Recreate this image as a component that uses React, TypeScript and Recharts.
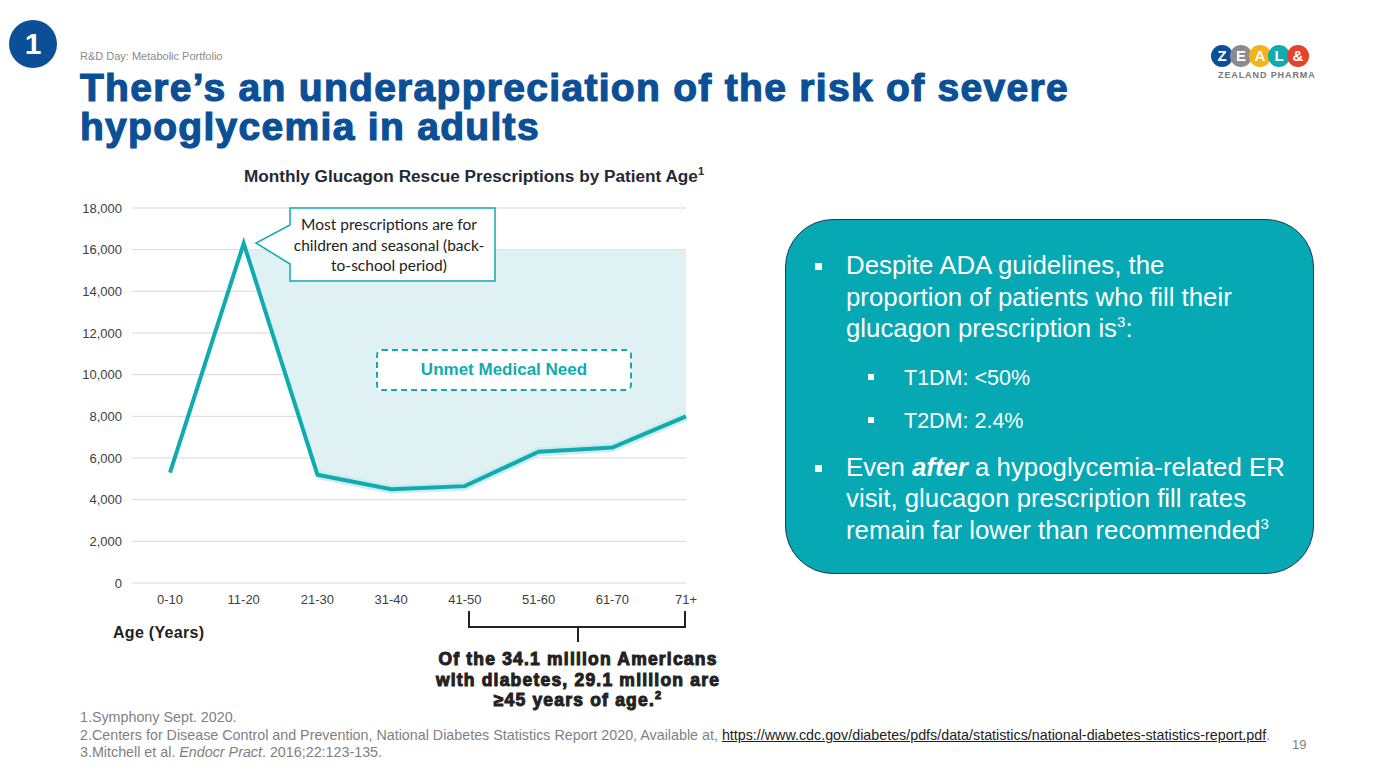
import React from "react";
import { Area, CartesianGrid, ComposedChart, Line, XAxis, YAxis } from "recharts";

const ageGroups = ["0-10", "11-20", "21-30", "31-40", "41-50", "51-60", "61-70", "71+"];
const prescriptions = [5300, 16300, 5200, 4500, 4650, 6300, 6500, 8000];
// upper edge of the "unmet medical need" band (starts at the 11-20 peak)
const unmetCeiling = [null, 16000, 16000, 16000, 16000, 16000, 16000, 16000];
const yTicks = [0, 2000, 4000, 6000, 8000, 10000, 12000, 14000, 16000, 18000];

const data = ageGroups.map((age, i) => ({
  age,
  value: prescriptions[i],
  halo: i >= 2 ? prescriptions[i] : null,
  gap: unmetCeiling[i] == null ? null : [prescriptions[i], unmetCeiling[i]],
}));

const TEAL = "#10abb1";
const BLUE = "#0b4f96";
const ARIAL = "'Liberation Sans', Arial, sans-serif";

const abs = (left: number, top: number, extra: React.CSSProperties = {}): React.CSSProperties => ({
  position: "absolute",
  left,
  top,
  ...extra,
});

const supStyle = (size: number): React.CSSProperties => ({ fontSize: size, lineHeight: 0, verticalAlign: "super" });

function Logo() {
  const letters = [
    { ch: "Z", c: "#0b4f96" },
    { ch: "E", c: "#8c8c8c" },
    { ch: "A", c: "#f3b31b" },
    { ch: "L", c: "#10abb1" },
    { ch: "&", c: "#e5412b" },
  ];
  return (
    <div style={abs(1210, 45, { width: 110 })}>
      <div style={{ display: "flex", marginLeft: 1 }}>
        {letters.map((l, i) => (
          <div
            key={i}
            style={{
              width: 22,
              height: 22,
              borderRadius: 11,
              background: l.c,
              color: "#fff",
              fontFamily: ARIAL,
              fontWeight: 700,
              fontSize: 15,
              lineHeight: "22px",
              textAlign: "center",
              marginLeft: i === 0 ? 0 : -3,
            }}
          >
            {l.ch}
          </div>
        ))}
      </div>
      <div
        style={{
          fontFamily: ARIAL,
          fontWeight: 700,
          fontSize: 9,
          color: "#777",
          letterSpacing: 0.9,
          marginTop: 3,
          marginLeft: 8,
          whiteSpace: "nowrap",
        }}
      >
        ZEALAND PHARMA
      </div>
    </div>
  );
}

function Bullet({ size }: { size: number }) {
  return <div style={{ width: size, height: size, background: "#fff" }} />;
}

export default function App() {
  return (
    <div style={abs(0, 0, { width: 1387, height: 780, background: "#fff", overflow: "hidden", fontFamily: ARIAL })}>
      {/* header */}
      <div
        style={abs(9, 20, {
          width: 48,
          height: 48,
          borderRadius: 24,
          background: BLUE,
          color: "#fff",
          fontWeight: 700,
          fontSize: 30,
          lineHeight: "48px",
          textAlign: "center",
        })}
      >
        1
      </div>
      <div style={abs(80, 50, { fontSize: 11, color: "#8a8a8a" })}>R&amp;D Day: Metabolic Portfolio</div>
      <div
        style={abs(80, 68, {
          fontSize: 39,
          fontWeight: 700,
          color: BLUE,
          lineHeight: "39px",
          letterSpacing: 1.3,
          WebkitTextStroke: `1.2px ${BLUE}`,
          width: 1150,
          whiteSpace: "nowrap",
        })}
      >
        There’s an underappreciation of the risk of severe
        <br />
        hypoglycemia in adults
      </div>
      <Logo />

      {/* chart title */}
      <div style={abs(154, 166, { width: 640, textAlign: "center", fontSize: 17.2, fontWeight: 700, color: "#1f2a36" })}>
        Monthly Glucagon Rescue Prescriptions by Patient Age<span style={supStyle(11)}>1</span>
      </div>

      {/* chart */}
      <div style={abs(60, 190)}>
        <ComposedChart width={646} height={433} data={data} margin={{ top: 18, right: 20, bottom: 10, left: 12 }}>
          <CartesianGrid vertical={false} stroke="#d9d9d9" strokeWidth={1} />
          <XAxis
            dataKey="age"
            axisLine={false}
            tickLine={false}
            padding={{ left: 38, right: 0 }}
            height={30}
            tickMargin={6}
            tick={{ fill: "#404040", fontSize: 13, fontFamily: ARIAL }}
          />
          <YAxis
            width={60}
            domain={[0, 18000]}
            ticks={yTicks}
            axisLine={false}
            tickLine={false}
            tickMargin={4}
            tickFormatter={(v: number) => v.toLocaleString("en-US")}
            tick={{ fill: "#404040", fontSize: 13, fontFamily: ARIAL }}
          />
          <Area
            dataKey="gap"
            type="linear"
            stroke="none"
            fill="#dff1f2"
            fillOpacity={1}
            isAnimationActive={false}
            connectNulls={false}
          />
          <Line dataKey="halo" type="linear" stroke="#cdeced" strokeWidth={9} dot={false} isAnimationActive={false} />
          <Line dataKey="value" type="linear" stroke={TEAL} strokeWidth={4} dot={false} isAnimationActive={false} />
        </ComposedChart>
      </div>

      {/* callout */}
      <svg style={abs(250, 205)} width={250} height={82}>
        <polygon points="40,3 245,3 245,76 40,76 40,59 6,38 40,20" fill="#fff" stroke={TEAL} strokeWidth={1.5} />
      </svg>
      <div
        style={abs(278, 214, {
          width: 222,
          textAlign: "center",
          fontFamily: "Lato, 'Open Sans', sans-serif",
          fontSize: 15.5,
          lineHeight: "20.5px",
          color: "#222",
          whiteSpace: "nowrap",
        })}
      >
        Most prescriptions are for
        <br />
        children and seasonal (back-
        <br />
        to-school period)
      </div>

      {/* unmet need label */}
      <div
        style={abs(376, 349, {
          width: 252,
          height: 38,
          border: `2px dashed ${TEAL}`,
          borderRadius: 6,
          background: "#fff",
          color: TEAL,
          fontWeight: 700,
          fontSize: 17,
          lineHeight: "38px",
          textAlign: "center",
        })}
      >
        Unmet Medical Need
      </div>

      <div style={abs(113, 624, { fontSize: 16, fontWeight: 700, color: "#222", letterSpacing: 0.3 })}>Age (Years)</div>

      {/* bracket */}
      <svg style={abs(460, 605)} width={240} height={42}>
        <polyline points="9,6 9,22 225,22 225,6" fill="none" stroke="#222" strokeWidth={2} />
        <line x1={118} y1={22} x2={118} y2={37} stroke="#222" strokeWidth={2} />
      </svg>
      <div
        style={abs(388, 649, {
          width: 380,
          textAlign: "center",
          fontSize: 17.5,
          fontWeight: 700,
          lineHeight: "20.5px",
          color: "#222",
          WebkitTextStroke: "1px #222",
          letterSpacing: 1.2,
          whiteSpace: "nowrap",
        })}
      >
        Of the 34.1 million Americans
        <br />
        with diabetes, 29.1 million are
        <br />≥45 years of age.<span style={supStyle(11)}>2</span>
      </div>

      {/* right panel */}
      <div
        style={abs(785, 219, {
          width: 529,
          height: 355,
          borderRadius: 48,
          background: "#06a9b3",
          border: "1.5px solid #1f3864",
          boxSizing: "border-box",
        })}
      />
      <div
        style={abs(815, 250, { width: 490, color: "#fff", fontSize: 25.8, lineHeight: "31.5px", whiteSpace: "nowrap" })}
      >
        <div style={{ display: "flex" }}>
          <div style={{ width: 31, flex: "none", paddingTop: 13 }}>
            <Bullet size={7} />
          </div>
          <div>
            Despite ADA guidelines, the
            <br />
            proportion of patients who fill their
            <br />
            glucagon prescription is<span style={supStyle(15)}>3</span>:
          </div>
        </div>
        <div style={{ display: "flex", marginTop: 21, fontSize: 21.5, lineHeight: "25px", marginLeft: 53 }}>
          <div style={{ width: 36, flex: "none", paddingTop: 8 }}>
            <Bullet size={6} />
          </div>
          <div>T1DM: &lt;50%</div>
        </div>
        <div style={{ display: "flex", marginTop: 18, fontSize: 21.5, lineHeight: "25px", marginLeft: 53 }}>
          <div style={{ width: 36, flex: "none", paddingTop: 8 }}>
            <Bullet size={6} />
          </div>
          <div>T2DM: 2.4%</div>
        </div>
        <div style={{ display: "flex", marginTop: 18 }}>
          <div style={{ width: 31, flex: "none", paddingTop: 13 }}>
            <Bullet size={7} />
          </div>
          <div>
            Even{" "}
            <b>
              <i>after</i>
            </b>{" "}
            a hypoglycemia-related ER
            <br />
            visit, glucagon prescription fill rates
            <br />
            remain far lower than recommended<span style={supStyle(15)}>3</span>
          </div>
        </div>
      </div>

      {/* footnotes */}
      <div style={abs(80, 709, { fontSize: 14.3, color: "#7f7f7f", lineHeight: "17.5px", whiteSpace: "nowrap" })}>
        <div>1.Symphony Sept. 2020.</div>
        <div>
          2.Centers for Disease Control and Prevention, National Diabetes Statistics Report 2020, Available at,{" "}
          <span style={{ color: "#222", textDecoration: "underline" }}>
            https://www.cdc.gov/diabetes/pdfs/data/statistics/national-diabetes-statistics-report.pdf
          </span>
          .
        </div>
        <div>
          3.Mitchell et al. <i>Endocr Pract</i>. 2016;22:123-135.
        </div>
      </div>
      <div style={abs(1292, 737, { fontSize: 13, color: "#7f7f7f" })}>19</div>
    </div>
  );
}
